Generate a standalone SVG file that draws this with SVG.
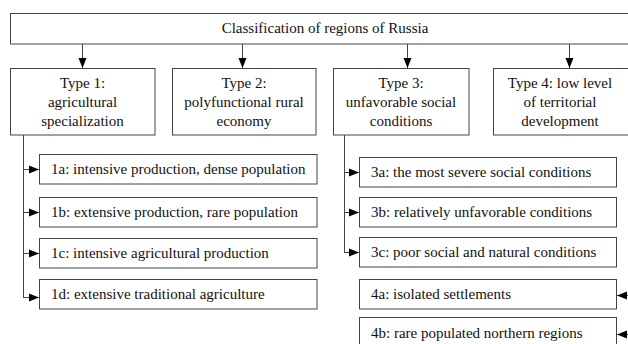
<svg xmlns="http://www.w3.org/2000/svg" width="628" height="344" viewBox="0 0 628 344">
<defs>
<marker id="ah" viewBox="0 0 10 10" refX="10" refY="5" markerWidth="10" markerHeight="10" markerUnits="userSpaceOnUse" orient="auto">
<path d="M0,1 L10,5 L0,9 Z" fill="#000"/>
</marker>
<style>
.box{fill:#fff;stroke:#444;stroke-width:1}
.c{text-anchor:middle}
.ln{fill:none;stroke:#444;stroke-width:1}
.ar{fill:none;stroke:#444;stroke-width:1;marker-end:url(#ah)}
</style>
</defs>
<rect width="628" height="344" fill="#fff"/>
<g id="connectors">
<line class="ar" x1="82.5" y1="44" x2="82.5" y2="68"/>
<line class="ar" x1="242.5" y1="44" x2="242.5" y2="68"/>
<line class="ar" x1="407.5" y1="44" x2="407.5" y2="68"/>
<line class="ar" x1="569.5" y1="44" x2="569.5" y2="68"/>
<path class="ln" d="M23.5,135 V297.5"/>
<line class="ar" x1="23.5" y1="169.5" x2="39" y2="169.5"/>
<line class="ar" x1="23.5" y1="212.5" x2="39" y2="212.5"/>
<line class="ar" x1="23.5" y1="253.5" x2="39" y2="253.5"/>
<line class="ar" x1="23" y1="297.5" x2="39" y2="297.5"/>
<path class="ln" d="M344.5,135 V252.5"/>
<line class="ar" x1="344.5" y1="172.5" x2="359" y2="172.5"/>
<line class="ar" x1="344.5" y1="212.5" x2="359" y2="212.5"/>
<line class="ar" x1="344" y1="252.5" x2="359" y2="252.5"/>
<line class="ar" x1="640" y1="295.5" x2="617" y2="295.5"/>
<line class="ar" x1="640" y1="334.5" x2="617" y2="334.5"/>
</g>
<g font-family="Liberation Serif, serif" font-size="15" fill="#111">
<g id="root">
<rect class="box" x="10.5" y="13.5" width="630" height="30.5"/>
<text class="c" x="325" y="33">Classification of regions of Russia</text>
</g>
<g id="type1">
<rect class="box" x="10.5" y="68.5" width="144.5" height="66.5"/>
<text class="c" x="82.5" y="88">Type 1:</text>
<text class="c" x="82.5" y="107">agricultural</text>
<text class="c" x="82.5" y="126">specialization</text>
</g>
<g id="type2">
<rect class="box" x="172.5" y="68.5" width="143.5" height="66.5"/>
<text class="c" x="244" y="88">Type 2:</text>
<text class="c" x="244" y="107">polyfunctional rural</text>
<text class="c" x="244" y="126">economy</text>
</g>
<g id="type3">
<rect class="box" x="333.5" y="68.5" width="135.5" height="66.5"/>
<text class="c" x="401" y="88">Type 3:</text>
<text class="c" x="401" y="107">unfavorable social</text>
<text class="c" x="401" y="126">conditions</text>
</g>
<g id="type4">
<rect class="box" x="493.5" y="68.5" width="140" height="66.5"/>
<text class="c" x="560" y="88">Type 4: low level</text>
<text class="c" x="560" y="107">of territorial</text>
<text class="c" x="560" y="126">development</text>
</g>
<g id="n1a">
<rect class="box" x="39.5" y="154.5" width="277.5" height="29.5"/>
<text x="51" y="174">1a: intensive production, dense population</text>
</g>
<g id="n1b">
<rect class="box" x="39.5" y="197.5" width="277.5" height="29.5"/>
<text x="51" y="217">1b: extensive production, rare population</text>
</g>
<g id="n1c">
<rect class="box" x="39.5" y="238.5" width="277.5" height="29.5"/>
<text x="51" y="258">1c: intensive agricultural production</text>
</g>
<g id="n1d">
<rect class="box" x="39.5" y="279.5" width="277.5" height="29.5"/>
<text x="51" y="299">1d: extensive traditional agriculture</text>
</g>
<g id="n3a">
<rect class="box" x="359.5" y="157.5" width="257" height="29.5"/>
<text x="371" y="177">3a: the most severe social conditions</text>
</g>
<g id="n3b">
<rect class="box" x="359.5" y="197.5" width="257" height="29.5"/>
<text x="371" y="217">3b: relatively unfavorable conditions</text>
</g>
<g id="n3c">
<rect class="box" x="359.5" y="237.5" width="257" height="29.5"/>
<text x="371" y="257">3c: poor social and natural conditions</text>
</g>
<g id="n4a">
<rect class="box" x="359.5" y="279.5" width="257" height="29.5"/>
<text x="371" y="299">4a: isolated settlements</text>
</g>
<g id="n4b">
<rect class="box" x="359.5" y="317.5" width="257" height="40"/>
<text x="371" y="338">4b: rare populated northern regions</text>
</g>
</g>
</svg>
